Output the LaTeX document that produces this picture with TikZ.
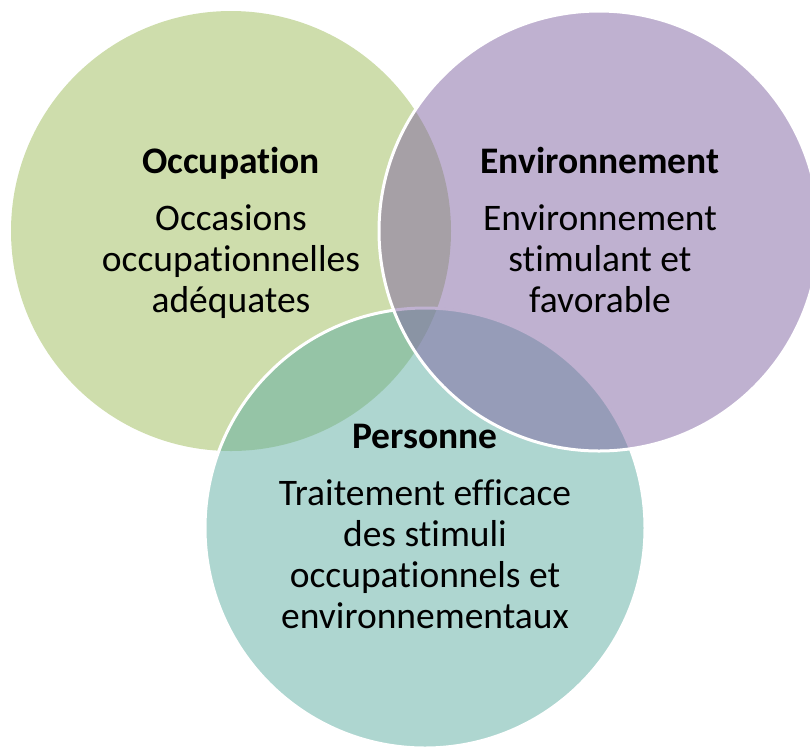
\documentclass[tikz,border=0pt]{standalone}
\usepackage{fontspec}
\setmainfont{Carlito}[Ligatures=NoCommon]
\usetikzlibrary{positioning}

\definecolor{occgreen}{RGB}{157,187,89}
\definecolor{envpurple}{RGB}{128,100,162}
\definecolor{perteal}{RGB}{93,173,161}

\tikzset{
  venn/.style={circle,minimum size=440pt,inner sep=0pt,fill opacity=.5,draw=white,line width=3pt},
  vtitle/.style={font=\bfseries\fontsize{37.5}{41}\selectfont,anchor=base,inner sep=0pt},
  vbody/.style={font=\fontsize{37.5}{41}\selectfont,align=center,anchor=base,inner sep=0pt}
}

\begin{document}
\begin{tikzpicture}[x=1pt,y=-1pt]
\useasboundingbox (0,0) rectangle (810,748);
% circles
\node[venn,fill=occgreen,draw=none] (occ) at (231,231) {};
\node[venn,fill=perteal] (per) at (425,528) {};
\node[venn,fill=envpurple] (env) at (599,231) {};
% labels (body nodes sit on the baseline of their last line)
\node[vtitle] (occtitle) at (231,173) {Occupation};
\node[vbody] (occtext) at (231,312) {Occasions\\occupationnelles\\adéquates};
\node[vtitle] (envtitle) at (600,173) {Environnement};
\node[vbody] (envtext) at (600,312) {Environnement\\stimulant et\\favorable};
\node[vtitle] (pertitle) at (425,448) {Personne};
\node[vbody] (pertext) at (425,628) {Traitement efficace\\des stimuli\\occupationnels et\\environnementaux};
\end{tikzpicture}
\end{document}
